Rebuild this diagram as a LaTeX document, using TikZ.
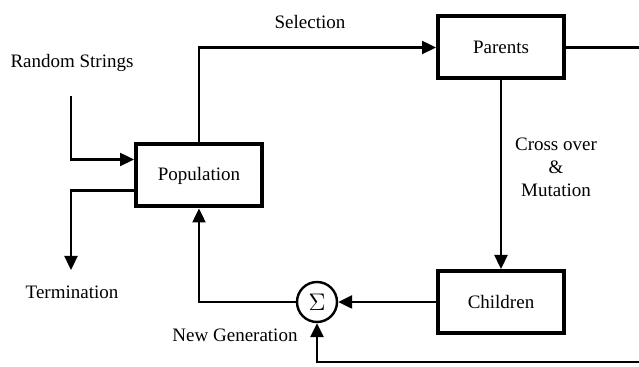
\documentclass[tikz,border=0pt]{standalone}
\usepackage{fontspec}
\setmainfont{Liberation Serif}
\usetikzlibrary{arrows.meta}

\begin{document}
\begin{tikzpicture}[x=0.5pt,y=-0.5pt,line width=1.2pt,
	>={Triangle[length=7pt,width=6.5pt]},
	block/.style={draw,line width=2pt,minimum width=63pt,minimum height=31pt,font=\fontsize{9.5}{11.5}\selectfont},
	lbl/.style={font=\fontsize{9.5}{11.5}\selectfont,align=center}]
	\useasboundingbox (0,0) rectangle (639,367);
	% blocks
	\node[block] (pop) at (199,175.5) {Population};
	\node[block] (par) at (501,47.5) {Parents};
	\node[block] (chi) at (501,302) {Children};
	\node[draw,circle,line width=1.2pt,minimum size=20pt,inner sep=0pt,font=\fontsize{12}{14}\selectfont] (sum) at (317,302) {$\Sigma$};
	% free ends
	\coordinate (rnd) at (71,96);
	\coordinate (term) at (71,270);
	\coordinate (parout) at (639,47.5);
	\coordinate (fback) at (639,362);
	% connectors
	\draw[->] (rnd) |- ([yshift=8pt]pop.west);
	\draw[->] ([yshift=-7.5pt]pop.west) -| (term);
	\draw[->] (pop.north) |- (par.west);
	\draw (par.east) -- (parout);
	\draw[->] (par.south) -- (chi.north);
	\draw[->] (chi.west) -- (sum.east);
	\draw[->] (sum.west) -| (pop.south);
	\draw[->] (fback) -| (sum.south);
	% labels
	\node[lbl] (lrnd) at (72,63) {Random Strings};
	\node[lbl] (lterm) at (72,292) {Termination};
	\node[lbl] (lsel) at (310,22) {Selection};
	\node[lbl] (lcross) at (556,167) {Cross over\\\&\\Mutation};
	\node[lbl] (lgen) at (235,335) {New Generation};
\end{tikzpicture}
\end{document}
